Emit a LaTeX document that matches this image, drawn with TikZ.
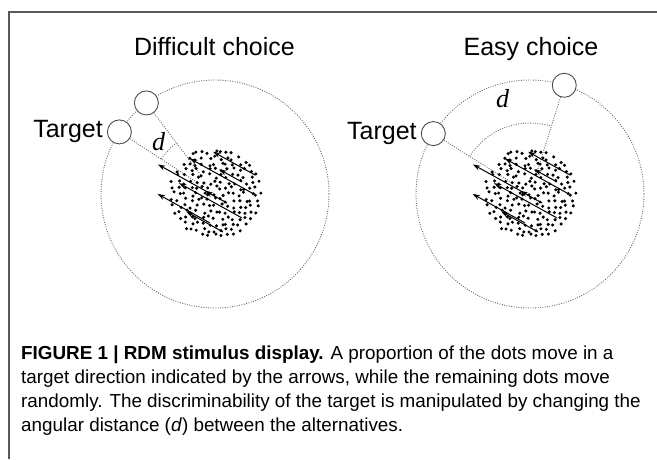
\documentclass[tikz,border=0pt]{standalone}
\usepackage{fontspec}
\setmainfont{Liberation Sans}
\newfontfamily\capfont{Liberation Sans}
\newfontfamily\dfont{Liberation Serif}
\usetikzlibrary{arrows.meta,positioning}

\tikzset{
  guide/.style = {draw = black!60, line width = 0.9pt, dash pattern = on 0.9pt off 1.5pt},
  choicedisk/.style = {circle, draw = black!70, fill = white, line width = 0.9pt,
    minimum size = 24pt, inner sep = 0pt},
  motion/.style = {-{Stealth[length = 7.5pt, width = 5pt]}, line width = 1pt},
  title/.style = {font = \fontsize{25}{30}\selectfont, anchor = base},
  label/.style = {font = \fontsize{25}{30}\selectfont, inner sep = 0pt},
  dlabel/.style = {font = \dfont\itshape\fontsize{26}{30}\selectfont, inner sep = 0pt},
  caption/.style = {font = \capfont\fontsize{18.85}{24}\selectfont, anchor = base west, inner sep = 0pt}
}

% the random dots with the coherent arrows on top
\newcommand{\dotcloud}{%
  \pgfmathsetseed{4242}
  \foreach \i in {-8,...,8} {
    \foreach \j in {-8,...,8} {
      \pgfmathsetmacro{\px}{6*\i + 4.4*rnd - 2.2}
      \pgfmathsetmacro{\py}{6*\j + 4.4*rnd - 2.2}
      \pgfmathtruncatemacro{\inside}{(\px)^2 + (\py)^2 < 2116}
      \ifnum\inside=1
        \fill (\px,\py) circle (1.7pt);
      \fi
    }
  }
  \foreach \x/\y/\l in {40/19/48, 37/1/71, 27/12/26, -2/-1/63, 27/-24/72,
                        12/-9/25, -5/-29/60, 8/-38/42}
    \draw [motion] (\x,\y) -- ++(151:\l);
}

\begin{document}
\begin{tikzpicture}[x = 1pt, y = 1pt]
    \useasboundingbox (0,0) rectangle (657,459);
    \draw [black!65, line width = 1.3pt] (9,0) -- (9,447) -- (657,447);

    % difficult choice
    \node (title1) [title] at (214.5,403) {Difficult choice};
    \begin{scope}[shift = {(215,265)}]
        \coordinate (c1) at (0,0);
        \draw [guide] (c1) circle (114);
        \node (t1) [choicedisk] at (147:114) {};
        \node (u1) [choicedisk] at (127:114) {};
        \coordinate (e1) at (147:22);
        \coordinate (f1) at (127:22);
        \draw [guide] (t1) -- (e1);
        \draw [guide] (u1) -- (f1);
        \draw [guide] (147:64) arc [start angle = 147, end angle = 127, radius = 64];
        \node (d1) [dlabel] at (137:77) {d};
        \dotcloud
    \end{scope}
    \node (lab1) [label, left = 4pt of t1] {Target};

    % easy choice
    \node (title2) [title] at (531,403) {Easy choice};
    \begin{scope}[shift = {(530,265)}]
        \coordinate (c2) at (0,0);
        \draw [guide] (c2) circle (114);
        \node (t2) [choicedisk] at (148:114) {};
        \node (u2) [choicedisk] at (72.5:114) {};
        \coordinate (e2) at (148:22);
        \coordinate (f2) at (72.5:20);
        \draw [guide] (t2) -- (e2);
        \draw [guide] (u2) -- (f2);
        \draw [guide] (148:71) arc [start angle = 148, end angle = 72.5, radius = 71];
        \node (d2) [dlabel] at (106:99) {d};
        \dotcloud
    \end{scope}
    \node (lab2) [label, left = 4pt of t2] {Target};

    % caption
    \node (cap1) [caption] at (21,100) {\textbf{FIGURE 1 | RDM stimulus display.} A proportion of the dots move in a};
    \node (cap2) [caption] at (21,76) {target direction indicated by the arrows, while the remaining dots move};
    \node (cap3) [caption] at (21,52) {randomly. The discriminability of the target is manipulated by changing the};
    \node (cap4) [caption] at (21,28) {angular distance (\textit{d}) between the alternatives.};
\end{tikzpicture}
\end{document}
